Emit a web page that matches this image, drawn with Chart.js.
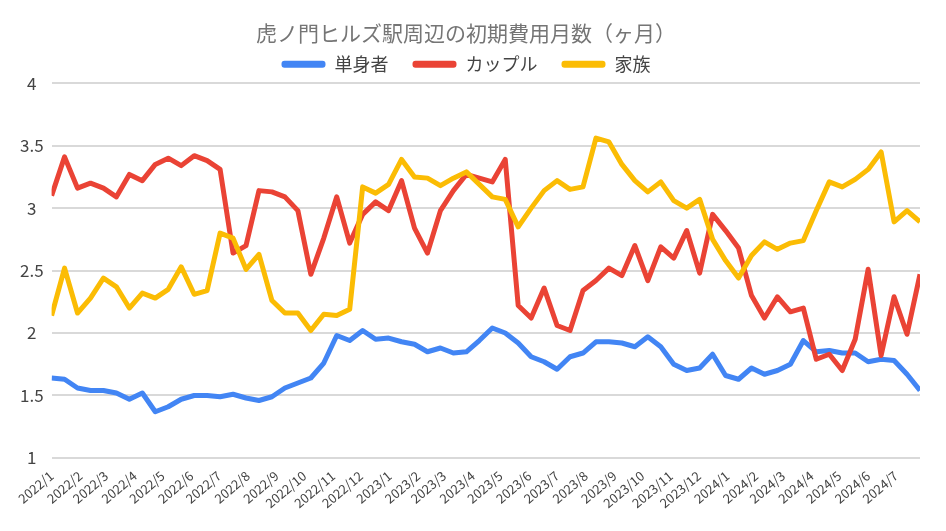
<!DOCTYPE html>
<html>
<head>
<meta charset="utf-8">
<script src="https://cdn.jsdelivr.net/npm/chart.js@4.4.1/dist/chart.umd.min.js"></script>
<style>
  html, body { margin: 0; padding: 0; background: #fff; }
</style>
</head>
<body>
<canvas id="costChart" width="946" height="531"></canvas>
<script>
// 月ラベル (x軸)
const monthLabels = [
  '2022/1', '2022/2', '2022/3', '2022/4', '2022/5', '2022/6', '2022/7', '2022/8',
  '2022/9', '2022/10', '2022/11', '2022/12', '2023/1', '2023/2', '2023/3', '2023/4',
  '2023/5', '2023/6', '2023/7', '2023/8', '2023/9', '2023/10', '2023/11', '2023/12',
  '2024/1', '2024/2', '2024/3', '2024/4', '2024/5', '2024/6', '2024/7'
];

// 2週間ごとのデータ (2022/1/1 から)
const firstDay = '2022-01-01';
const stepDays = 14;

const singleData = [
  1.64, 1.63, 1.56, 1.54, 1.54, 1.52, 1.47, 1.52, 1.37, 1.41, 1.47, 1.50,
  1.50, 1.49, 1.51, 1.48, 1.46, 1.49, 1.56, 1.60, 1.64, 1.76, 1.98, 1.94,
  2.02, 1.95, 1.96, 1.93, 1.91, 1.85, 1.88, 1.84, 1.85, 1.94, 2.04, 2.00,
  1.92, 1.81, 1.77, 1.71, 1.81, 1.84, 1.93, 1.93, 1.92, 1.89, 1.97, 1.89,
  1.75, 1.70, 1.72, 1.83, 1.66, 1.63, 1.72, 1.67, 1.70, 1.75, 1.94, 1.85,
  1.86, 1.84, 1.84, 1.77, 1.79, 1.78, 1.67, 1.54
];

const coupleData = [
  3.10, 3.41, 3.16, 3.20, 3.16, 3.09, 3.27, 3.22, 3.35, 3.40, 3.34, 3.42,
  3.38, 3.31, 2.64, 2.70, 3.14, 3.13, 3.09, 2.98, 2.47, 2.76, 3.09, 2.72,
  2.95, 3.05, 2.98, 3.22, 2.84, 2.64, 2.98, 3.14, 3.27, 3.24, 3.21, 3.39,
  2.22, 2.12, 2.36, 2.06, 2.02, 2.34, 2.42, 2.52, 2.46, 2.70, 2.42, 2.69,
  2.60, 2.82, 2.48, 2.95, 2.82, 2.68, 2.30, 2.12, 2.29, 2.17, 2.20, 1.79,
  1.83, 1.70, 1.95, 2.51, 1.82, 2.29, 1.99, 2.47
];

const familyData = [
  2.14, 2.52, 2.16, 2.28, 2.44, 2.37, 2.20, 2.32, 2.28, 2.35, 2.53, 2.31,
  2.34, 2.80, 2.76, 2.51, 2.63, 2.26, 2.16, 2.16, 2.02, 2.15, 2.14, 2.19,
  3.17, 3.12, 3.19, 3.39, 3.25, 3.24, 3.18, 3.24, 3.29, 3.19, 3.09, 3.07,
  2.85, 3.00, 3.14, 3.22, 3.15, 3.17, 3.56, 3.53, 3.35, 3.22, 3.13, 3.21,
  3.06, 3.00, 3.07, 2.75, 2.58, 2.44, 2.62, 2.73, 2.67, 2.72, 2.74, 2.98,
  3.21, 3.17, 3.23, 3.31, 3.45, 2.89, 2.98, 2.89
];

const yTicks = [1, 1.5, 2, 2.5, 3, 3.5, 4];

const DAY = 86400000;
const origin = new Date(firstDay + 'T00:00:00Z').getTime();

function monthOffset(label) {
  const [y, m] = label.split('/').map(Number);
  return (Date.UTC(y, m - 1, 1) - origin) / DAY;
}

function toPoints(values) {
  return values.map((v, i) => ({ x: i * stepDays, y: v }));
}

const fontFamily = '"Noto Sans CJK JP", "Noto Sans", sans-serif';

const costChart = new Chart(document.getElementById('costChart'), {
  type: 'line',
  data: {
    datasets: [{
      label: '単身者',
      data: toPoints(singleData),
      borderColor: '#4285f4',
      backgroundColor: '#4285f4',
      order: 3
    }, {
      label: 'カップル',
      data: toPoints(coupleData),
      borderColor: '#ea4335',
      backgroundColor: '#ea4335',
      order: 2
    }, {
      label: '家族',
      data: toPoints(familyData),
      borderColor: '#fbbc04',
      backgroundColor: '#fbbc04',
      order: 1
    }]
  },
  options: {
    responsive: false,
    animation: false,
    layout: {
      padding: { left: 12, right: 26, top: 0, bottom: 18 }
    },
    elements: {
      line: { borderWidth: 5, tension: 0, borderJoinStyle: 'round' },
      point: { radius: 0 }
    },
    plugins: {
      title: {
        display: true,
        text: '虎ノ門ヒルズ駅周辺の初期費用月数（ヶ月）',
        color: '#757575',
        font: { family: fontFamily, size: 21, weight: 'normal' },
        padding: { top: 20, bottom: -14 }
      },
      legend: {
        position: 'top',
        labels: {
          color: '#444',
          font: { family: fontFamily, size: 18 },
          boxWidth: 44,
          boxHeight: 7,
          padding: 24,
          useBorderRadius: true,
          borderRadius: 3,
          sort: (a, b) => a.datasetIndex - b.datasetIndex,
          generateLabels: (chart) => {
            const items = Chart.defaults.plugins.legend.labels.generateLabels(chart);
            items.forEach(it => { it.lineWidth = 0; it.fillStyle = it.strokeStyle; });
            return items;
          }
        }
      },
      tooltip: { enabled: false }
    },
    scales: {
      x: {
        type: 'linear',
        min: 0,
        max: (singleData.length - 1) * stepDays,
        afterBuildTicks: (scale) => {
          scale.ticks = monthLabels.map(l => ({ value: monthOffset(l) }));
        },
        ticks: {
          autoSkip: false,
          maxRotation: 40,
          minRotation: 40,
          padding: 2,
          color: '#444',
          font: { family: fontFamily, size: 13 },
          callback: (value, index) => monthLabels[index]
        },
        grid: { display: false },
        border: { display: false }
      },
      y: {
        min: 1,
        max: 4,
        afterBuildTicks: (scale) => {
          scale.ticks = yTicks.map(v => ({ value: v }));
        },
        ticks: {
          color: '#444',
          padding: 8,
          crossAlign: 'center',
          font: { family: fontFamily, size: 17 },
          callback: (value) => String(value)
        },
        grid: { color: '#d9d9d9', lineWidth: 2, drawTicks: false },
        border: { display: false }
      }
    }
  }
});
</script>
</body>
</html>
